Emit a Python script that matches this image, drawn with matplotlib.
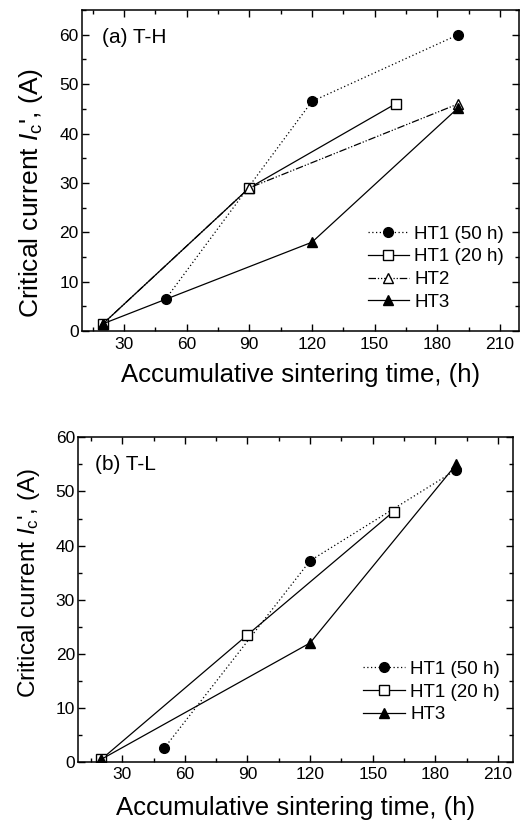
import matplotlib
matplotlib.use("Agg")
import matplotlib.pyplot as plt
from matplotlib.ticker import MultipleLocator

plt.rcParams['font.family'] = ['Liberation Sans', 'DejaVu Sans']
plt.rcParams['mathtext.fontset'] = 'custom'
plt.rcParams['mathtext.rm'] = 'Liberation Sans'
plt.rcParams['mathtext.it'] = 'Liberation Sans:italic'

# ---- Data: panel (a) T-H ----
a_ht1_50_x = [50, 120, 190]
a_ht1_50_y = [6.5, 46.5, 60.0]
a_ht1_20_x = [20, 90, 160]
a_ht1_20_y = [1.5, 29.0, 46.0]
a_ht2_x = [20, 90, 190]
a_ht2_y = [1.5, 29.0, 46.0]
a_ht3_x = [20, 120, 190]
a_ht3_y = [1.5, 18.0, 45.2]

# ---- Data: panel (b) T-L ----
b_ht1_50_x = [50, 120, 190]
b_ht1_50_y = [2.5, 37.2, 54.0]
b_ht1_20_x = [20, 90, 160]
b_ht1_20_y = [0.5, 23.5, 46.3]
b_ht3_x = [20, 120, 190]
b_ht3_y = [0.5, 22.0, 55.0]

x_ticks = [30, 60, 90, 120, 150, 180, 210]
labels_a = ["HT1 (50 h)", "HT1 (20 h)", "HT2", "HT3"]
labels_b = ["HT1 (50 h)", "HT1 (20 h)", "HT3"]

fig = plt.figure(figsize=(5.23, 8.30), dpi=100)
ax1 = fig.add_axes([0.157, 0.601, 0.835, 0.387])
ax2 = fig.add_axes([0.150, 0.082, 0.830, 0.391])

lw = 0.9
styles = {
    "HT1 (50 h)": dict(color='k', ls=(0, (1, 2)), marker='o', mfc='k', mec='k', ms=7),
    "HT1 (20 h)": dict(color='k', ls='-', marker='s', mfc='white', mec='k', ms=6.5),
    "HT2": dict(color='k', ls=(0, (6, 1.5, 1, 1.5, 1, 1.5)), marker='^', mfc='white', mec='k', ms=7.5),
    "HT3": dict(color='k', ls='-', marker='^', mfc='k', mec='k', ms=7.5),
}

def draw(ax, series, labels):
    handles = []
    for (x, y), lab in zip(series, labels):
        h, = ax.plot(x, y, lw=lw, mew=1.0, label=lab, **styles[lab])
        handles.append(h)
    return handles

h1 = draw(ax1, [(a_ht1_50_x, a_ht1_50_y), (a_ht1_20_x, a_ht1_20_y),
                (a_ht2_x, a_ht2_y), (a_ht3_x, a_ht3_y)], labels_a)
h2 = draw(ax2, [(b_ht1_50_x, b_ht1_50_y), (b_ht1_20_x, b_ht1_20_y),
                (b_ht3_x, b_ht3_y)], labels_b)

for ax, ylim, ylab_size, ylab_pos in [(ax1, (0, 65), 19, (-0.085, 0.43)),
                                      (ax2, (0, 60), 17.5, (-0.085, 0.55))]:
    ax.set_xlim(10, 219)
    ax.set_ylim(*ylim)
    ax.set_xticks(x_ticks)
    ax.xaxis.set_minor_locator(MultipleLocator(15))
    ax.yaxis.set_major_locator(MultipleLocator(10))
    ax.yaxis.set_minor_locator(MultipleLocator(5))
    ax.tick_params(which='both', direction='in', top=True, right=True, width=1.0)
    ax.tick_params(which='major', length=5, labelsize=12.5)
    ax.tick_params(axis='y', which='major', pad=2.5)
    ax.tick_params(axis='x', which='major', pad=4)
    ax.tick_params(which='minor', length=3)
    for s in ax.spines.values():
        s.set_linewidth(1.1)
    ax.set_xlabel("Accumulative sintering time, (h)", fontsize=18.5, labelpad=8)
    ax.set_ylabel(r"Critical current $\mathit{I}_{\rm c}$', (A)", fontsize=ylab_size)
    ax.yaxis.set_label_coords(*ylab_pos)

ax2.set_xlim(9, 217)
ax2.xaxis.labelpad = 10

ax1.text(0.046, 0.945, "(a) T-H", transform=ax1.transAxes, fontsize=15, va='top', ha='left')
ax2.text(0.038, 0.945, "(b) T-L", transform=ax2.transAxes, fontsize=15, va='top', ha='left')

ax1.legend(handles=h1, loc='center', bbox_to_anchor=(0.81, 0.196), frameon=False,
           fontsize=13.5, handlelength=2.2, handletextpad=0.3, labelspacing=0.3, borderaxespad=0.3)
ax2.legend(handles=h2, loc='center', bbox_to_anchor=(0.814, 0.215), frameon=False,
           fontsize=13.5, handlelength=2.2, handletextpad=0.3, labelspacing=0.3, borderaxespad=0.3)

fig.savefig("out.png", dpi=100)
